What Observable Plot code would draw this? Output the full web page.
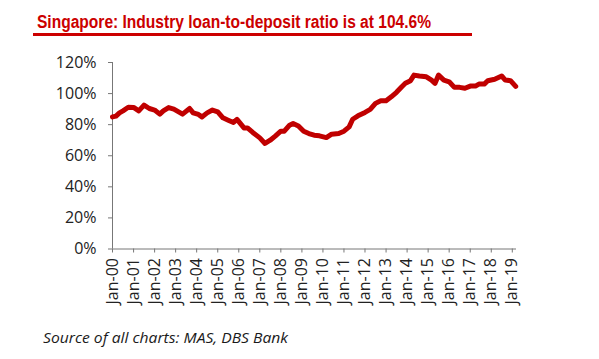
<!DOCTYPE html>
<html>
<head>
<meta charset="utf-8">
<script src="https://cdn.jsdelivr.net/npm/d3@7"></script>
<script src="https://cdn.jsdelivr.net/npm/@observablehq/plot@0.6"></script>
<style>
  html, body { margin: 0; padding: 0; background: #fff; }
  #page { position: relative; width: 599px; height: 359px; overflow: hidden; }
  #header { position: relative; height: 40px; }
  #title { position: absolute; left: 37px; top: 13px; white-space: nowrap;
           font-family: "Liberation Sans Narrow", "Liberation Sans", sans-serif; font-weight: bold;
           font-size: 18px; line-height: 18px; color: #cc0000; transform-origin: 0 0; }
  #rule { position: absolute; left: 33px; top: 33px; width: 439px; height: 3px; background: #cc0000; }
  #caption { position: absolute; left: 43px; top: 330px; white-space: nowrap;
             font-family: "Open Sans", sans-serif; font-style: italic; font-size: 15px; line-height: 15px; color: #1a1a1a; transform-origin: 0 0; }
  #chart svg { display: block; }
</style>
</head>
<body>
<div id="page">
  <div id="header"><span id="title">Singapore: Industry loan-to-deposit ratio is at 104.6%</span><div id="rule"></div></div>
  <div id="chart"></div>
  <div id="caption">Source of all charts: MAS, DBS Bank</div>
</div>
<script>
// ---- data ----
const months = [
  "2000-01","2000-03","2000-05","2000-07","2000-10","2001-01","2001-04","2001-07","2001-10",
  "2002-01","2002-04","2002-06","2002-09","2002-12","2003-05","2003-09","2003-11","2004-02",
  "2004-04","2004-07","2004-10","2005-01","2005-04","2005-07","2005-10","2005-12","2006-04",
  "2006-06","2006-09","2007-01","2007-04","2007-07","2007-10","2008-01","2008-03","2008-06",
  "2008-08","2008-11","2009-02","2009-05","2009-08","2009-11","2010-03","2010-06","2010-10",
  "2011-01","2011-04","2011-06","2011-09","2012-01","2012-04","2012-07","2012-10","2013-01",
  "2013-04","2013-07","2013-10","2013-12","2014-03","2014-05","2014-08","2014-12","2015-03",
  "2015-05","2015-07","2015-10","2016-01","2016-04","2016-07","2016-10","2017-01","2017-04",
  "2017-06","2017-09","2017-11","2018-03","2018-07","2018-09","2018-12","2019-03"
];
const ratio = [
  85.0, 85.5, 87.6, 88.9, 91.2, 91.1, 88.9, 92.6, 90.4,
  89.4, 86.8, 88.9, 91.0, 90.0, 86.8, 90.4, 87.6, 86.6,
  85.0, 87.6, 89.4, 88.3, 84.4, 82.9, 81.4, 83.4, 77.9,
  77.9, 75.0, 71.5, 67.9, 70.0, 72.8, 75.8, 75.8, 79.7,
  80.8, 79.2, 75.8, 74.3, 73.2, 72.8, 71.7, 73.9, 74.3,
  75.8, 78.6, 83.5, 85.7, 87.9, 89.8, 93.7, 95.4, 95.4,
  97.9, 100.8, 104.4, 106.6, 108.3, 111.9, 111.3, 110.8, 108.7,
  106.6, 111.9, 108.7, 107.6, 104.0, 104.0, 103.4, 104.8, 104.8,
  106.1, 106.1, 108.3, 109.2, 111.3, 108.7, 108.3, 104.6
];
const yTicks = [0, 20, 40, 60, 80, 100, 120];
const yTickLabels = ["0%", "20%", "40%", "60%", "80%", "100%", "120%"];
const xTickMonths = ["2000-01","2001-01","2002-01","2003-01","2004-01","2005-01","2006-01","2007-01",
  "2008-01","2009-01","2010-01","2011-01","2012-01","2013-01","2014-01","2015-01","2016-01",
  "2017-01","2018-01","2019-01"];
const xTickLabels = ["Jan-00","Jan-01","Jan-02","Jan-03","Jan-04","Jan-05","Jan-06","Jan-07",
  "Jan-08","Jan-09","Jan-10","Jan-11","Jan-12","Jan-13","Jan-14","Jan-15","Jan-16",
  "Jan-17","Jan-18","Jan-19"];
const xDomain = ["2000-01", "2019-03-15"];

// ---- build ----
const parse = s => new Date(s.length === 7 ? s + "-01T00:00:00Z" : s + "T00:00:00Z");
const data = months.map((m, i) => ({date: parse(m), value: ratio[i]}));
const xTicks = xTickMonths.map(parse);
const xLabelOf = new Map(xTicks.map((d, i) => [+d, xTickLabels[i]]));
const yLabelOf = new Map(yTicks.map((v, i) => [v, yTickLabels[i]]));

const chart = Plot.plot({
  width: 599,
  height: 280,
  marginLeft: 112,
  marginRight: 83,
  marginTop: 22,
  marginBottom: 71.5,
  style: {fontFamily: "'Open Sans', sans-serif", fontSize: "16px", background: "#fff"},
  x: {type: "utc", domain: xDomain.map(parse)},
  y: {domain: [0, 120]},
  marks: [
    Plot.axisY({ticks: yTicks, tickSize: 4, tickPadding: 12, tickFormat: v => yLabelOf.get(v),
      label: null, stroke: "#777", fill: "#222", fontSize: 16}),
    Plot.axisX({ticks: xTicks, tickSize: 4, tickPadding: 5, tickRotate: -90,
      tickFormat: d => xLabelOf.get(+d), label: null, stroke: "#777", fill: "#222", fontSize: 16}),
    Plot.ruleX([parse(xDomain[0])], {stroke: "#777"}),
    Plot.ruleY([0], {stroke: "#777"}),
    Plot.lineY(data, {x: "date", y: "value", stroke: "#c00000", strokeWidth: 5,
      strokeLinejoin: "round", strokeLinecap: "round"})
  ]
});
document.getElementById("chart").appendChild(chart);

// fit the title and caption to the reference widths
const fit = (id, target) => {
  const el = document.getElementById(id);
  const w = el.getBoundingClientRect().width;
  el.style.transform = `scaleX(${target / w})`;
};
fit("title", 394);
fit("caption", 245);
</script>
</body>
</html>
